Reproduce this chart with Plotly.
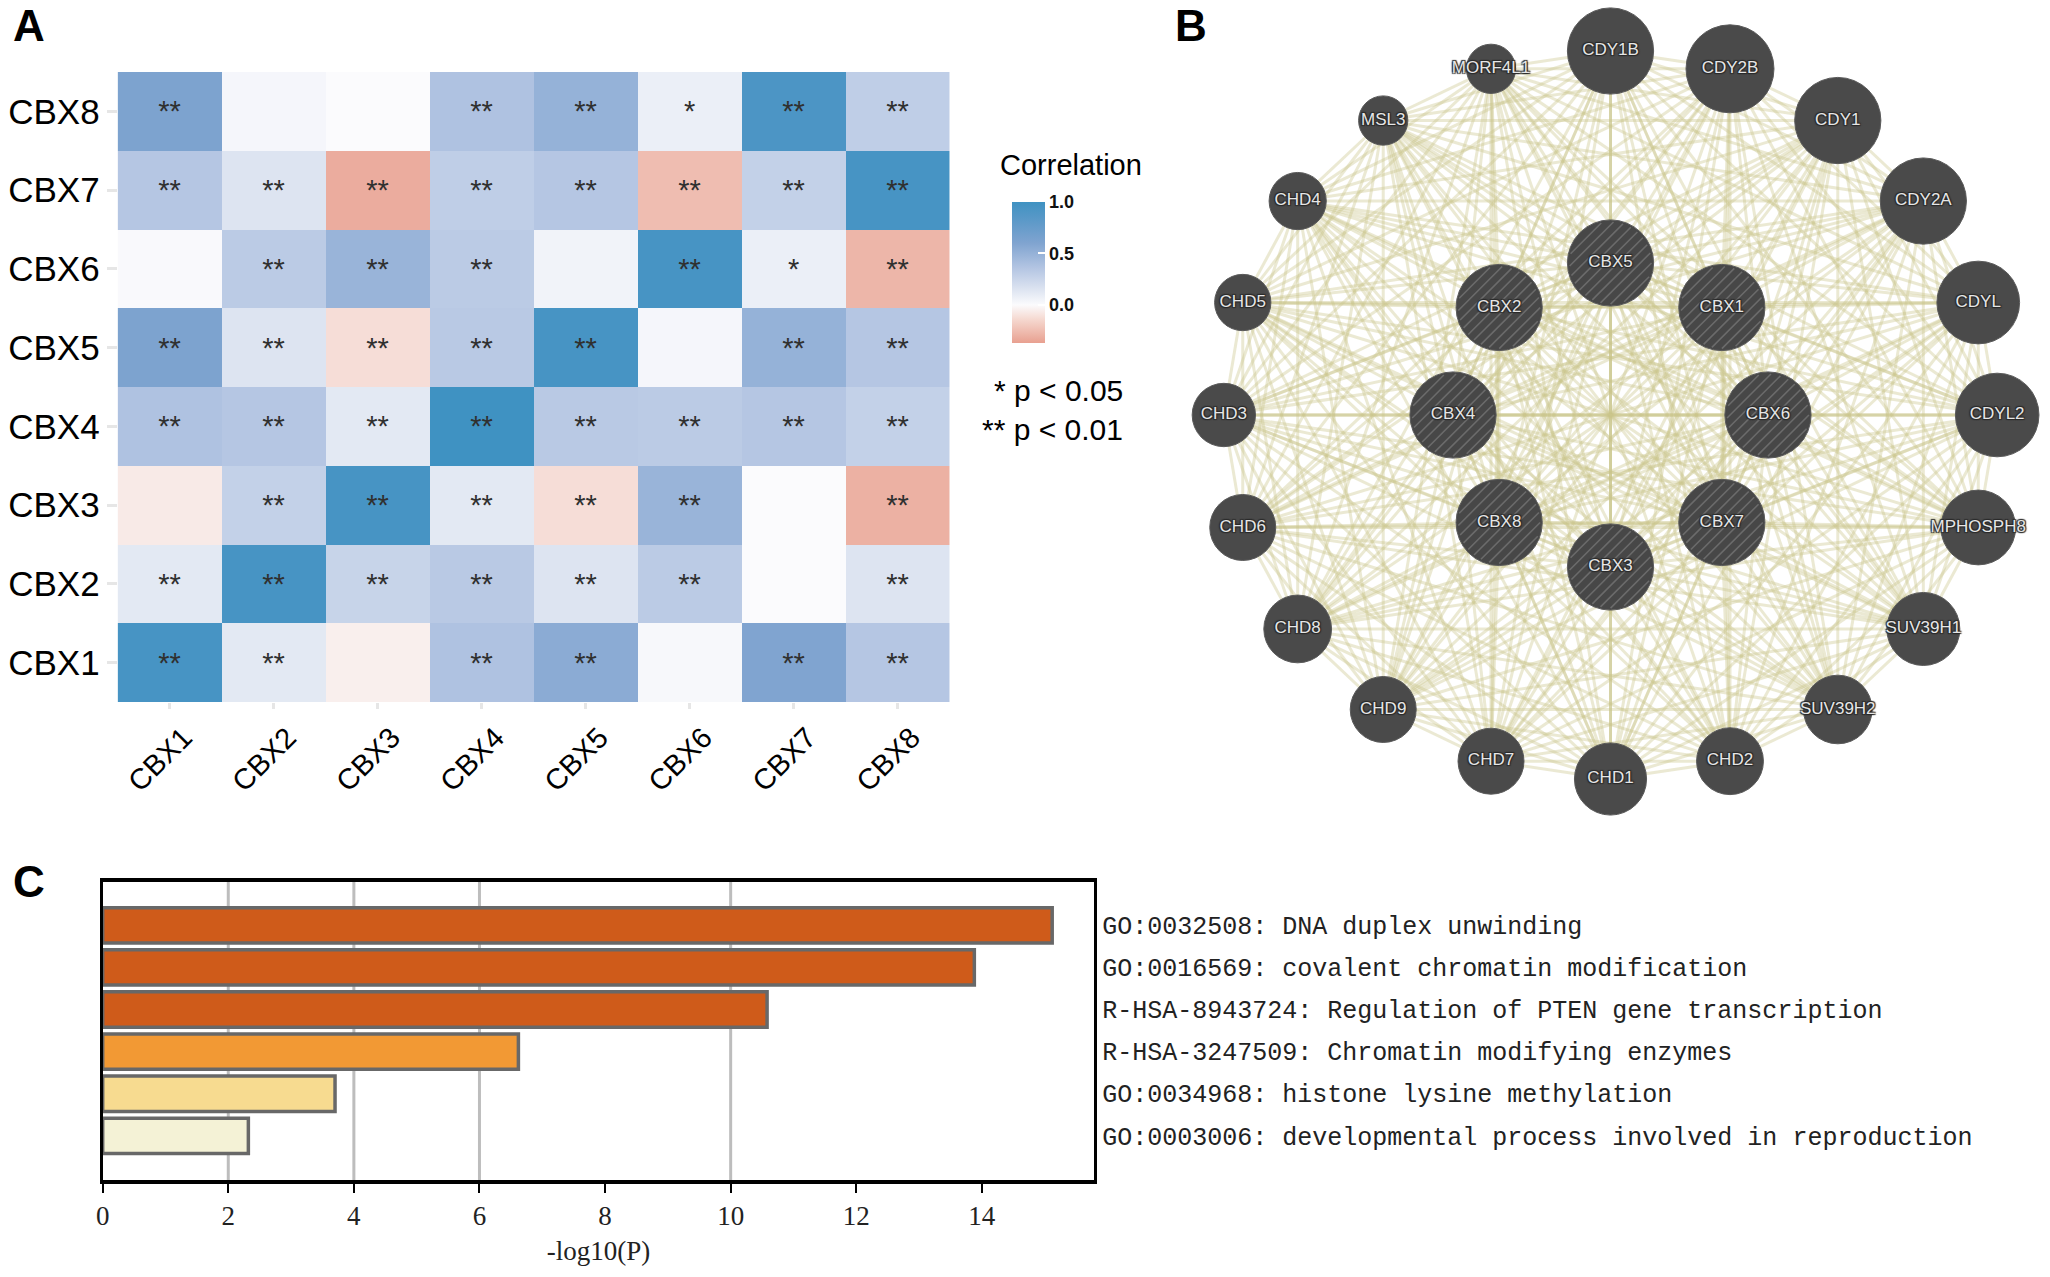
import math
from itertools import combinations
import plotly.graph_objects as go

# ---------------- Panel A data: correlation heatmap ----------------
cbx_cols = ["CBX1", "CBX2", "CBX3", "CBX4", "CBX5", "CBX6", "CBX7", "CBX8"]
cbx_rows = ["CBX1", "CBX2", "CBX3", "CBX4", "CBX5", "CBX6", "CBX7", "CBX8"]
corr_cbx1 = [0.95, 0.12, -0.05, 0.38, 0.55, 0.02, 0.60, 0.35]
corr_cbx2 = [0.12, 0.95, 0.26, 0.33, 0.15, 0.32, 0.00, 0.15]
corr_cbx3 = [-0.07, 0.28, 0.95, 0.12, -0.12, 0.48, 0.00, -0.30]
corr_cbx4 = [0.38, 0.35, 0.12, 1.00, 0.33, 0.32, 0.35, 0.28]
corr_cbx5 = [0.62, 0.15, -0.12, 0.33, 0.95, 0.03, 0.50, 0.35]
corr_cbx6 = [0.01, 0.32, 0.48, 0.32, 0.05, 0.95, 0.08, -0.28]
corr_cbx7 = [0.35, 0.15, -0.32, 0.30, 0.35, -0.25, 0.28, 0.95]
corr_cbx8 = [0.62, 0.03, 0.00, 0.38, 0.50, 0.08, 0.92, 0.30]
sig_cbx1 = ["**", "**", "", "**", "**", "", "**", "**"]
sig_cbx2 = ["**", "**", "**", "**", "**", "**", "", "**"]
sig_cbx3 = ["", "**", "**", "**", "**", "**", "", "**"]
sig_cbx4 = ["**", "**", "**", "**", "**", "**", "**", "**"]
sig_cbx5 = ["**", "**", "**", "**", "**", "", "**", "**"]
sig_cbx6 = ["", "**", "**", "**", "", "**", "*", "**"]
sig_cbx7 = ["**", "**", "**", "**", "**", "**", "**", "**"]
sig_cbx8 = ["**", "", "", "**", "**", "*", "**", "**"]
corr_min, corr_max = -0.37, 1.0
cbar_ticks = [0.0, 0.5, 1.0]

# ---------------- Panel B data: interaction network ----------------
outer_nodes = ["CDY1B", "CDY2B", "CDY1", "CDY2A", "CDYL", "CDYL2", "MPHOSPH8",
               "SUV39H1", "SUV39H2", "CHD2", "CHD1", "CHD7", "CHD9", "CHD8",
               "CHD6", "CHD3", "CHD5", "CHD4", "MSL3", "MORF4L1"]
outer_score = [0.98, 1.00, 0.98, 0.98, 0.94, 0.95, 0.85, 0.83, 0.78, 0.76,
               0.82, 0.75, 0.75, 0.77, 0.75, 0.72, 0.64, 0.65, 0.56, 0.56]
inner_nodes = ["CBX5", "CBX1", "CBX6", "CBX7", "CBX3", "CBX8", "CBX4", "CBX2"]
inner_score = [0.98, 0.98, 0.98, 0.98, 0.98, 0.98, 0.98, 0.98]

# ---------------- Panel C data: enrichment bars ----------------
terms = ["GO:0032508: DNA duplex unwinding",
         "GO:0016569: covalent chromatin modification",
         "R-HSA-8943724: Regulation of PTEN gene transcription",
         "R-HSA-3247509: Chromatin modifying enzymes",
         "GO:0034968: histone lysine methylation",
         "GO:0003006: developmental process involved in reproduction"]
neg_log10_p = [15.12, 13.88, 10.58, 6.62, 3.70, 2.32]
bar_grid_at = [2, 4, 6, 10]
bar_ticks = [0, 2, 4, 6, 8, 10, 12, 14]

W, H = 2050, 1277
X_OFF = -6  # small horizontal correction for the capture


def px_x(p):
    return (p + X_OFF) / W


def px_y(p):
    return 1 - p / H


fig = go.Figure()

# ---------------- Heatmap ----------------
z = [corr_cbx1, corr_cbx2, corr_cbx3, corr_cbx4, corr_cbx5, corr_cbx6, corr_cbx7, corr_cbx8]
sig = [sig_cbx1, sig_cbx2, sig_cbx3, sig_cbx4, sig_cbx5, sig_cbx6, sig_cbx7, sig_cbx8]


def nrm(v):
    return (v - corr_min) / (corr_max - corr_min)


colorscale = [
    [0.0, "#e8a090"],
    [nrm(-0.15), "#f5d6cd"],
    [nrm(0.0), "#fbfbfd"],
    [nrm(0.15), "#dde4f1"],
    [nrm(0.35), "#b5c6e3"],
    [nrm(0.6), "#80a4d0"],
    [nrm(0.8), "#5f9ac9"],
    [1.0, "#3f92c2"],
]

fig.add_trace(go.Heatmap(
    x=cbx_cols, y=cbx_rows, z=z, text=sig, texttemplate="%{text}",
    textfont=dict(family="Arial", size=29, color="#303030"),
    zmin=corr_min, zmax=corr_max, colorscale=colorscale,
    xaxis="x", yaxis="y", hoverinfo="skip",
    colorbar=dict(
        x=px_x(1014), xanchor="left", xpad=0,
        y=px_y(272.5), yanchor="middle", ypad=0,
        len=141, lenmode="pixels", thickness=33, thicknessmode="pixels",
        tickvals=cbar_ticks, ticktext=[f"{t:.1f}" for t in cbar_ticks],
        ticks="inside", tickcolor="white", ticklen=7, tickwidth=2,
        tickfont=dict(family="Arial", size=18, color="#111", weight="bold"),
        outlinewidth=0,
    ),
))

# ---------------- Network ----------------
rx_out, ry_out = 388, 364
rx_in, ry_in = 158, 152
pos = {}
for i, n in enumerate(outer_nodes):
    a = 2 * math.pi * i / len(outer_nodes)
    pos[n] = (rx_out * math.sin(a), ry_out * math.cos(a))
for i, n in enumerate(inner_nodes):
    a = 2 * math.pi * i / len(inner_nodes)
    pos[n] = (rx_in * math.sin(a), ry_in * math.cos(a))

all_nodes = outer_nodes + inner_nodes
ex, ey = [], []
for a, b in combinations(all_nodes, 2):
    ex += [pos[a][0], pos[b][0], None]
    ey += [pos[a][1], pos[b][1], None]
fig.add_trace(go.Scatter(
    x=ex, y=ey, mode="lines", xaxis="x2", yaxis="y2",
    line=dict(color="rgba(202,198,140,0.38)", width=3.0),
    hoverinfo="skip", showlegend=False,
))

NODE_D = 88
fig.add_trace(go.Scatter(
    x=[pos[n][0] for n in outer_nodes], y=[pos[n][1] for n in outer_nodes],
    mode="markers", marker=dict(size=[s * NODE_D for s in outer_score], color="#4a4a4a",
                                line=dict(width=1, color="#5a5a5a"), opacity=1),
    xaxis="x2", yaxis="y2", hoverinfo="skip", showlegend=False,
))
fig.add_trace(go.Scatter(
    x=[pos[n][0] for n in inner_nodes], y=[pos[n][1] for n in inner_nodes],
    mode="markers", marker=dict(size=[s * NODE_D for s in inner_score], color="#474747",
                                line=dict(width=1, color="#5c5c5c"), opacity=1),
    xaxis="x2", yaxis="y2", hoverinfo="skip", showlegend=False,
))
# diagonal hatching inside the CBX (query) nodes; axis units equal screen pixels
hx, hy = [], []
c45 = math.cos(math.pi / 4)
for n, s in zip(inner_nodes, inner_score):
    r = s * NODE_D / 2 - 2
    x0, y0 = pos[n]
    d = -r + 4
    while d < r:
        half = math.sqrt(max(r * r - d * d, 0))
        bx, by = x0 - d * c45, y0 + d * c45
        hx += [bx - half * c45, bx + half * c45, None]
        hy += [by - half * c45, by + half * c45, None]
        d += 8
fig.add_trace(go.Scatter(
    x=hx, y=hy, mode="lines", xaxis="x2", yaxis="y2",
    line=dict(color="#6b6b6b", width=1.6), hoverinfo="skip", showlegend=False,
))
shadow = "1px 1px 1px #2a2a2a, -1px -1px 1px #2a2a2a, 1px -1px 1px #2a2a2a, -1px 1px 1px #2a2a2a"
fig.add_trace(go.Scatter(
    x=[pos[n][0] for n in all_nodes], y=[pos[n][1] for n in all_nodes],
    mode="text", text=all_nodes, textposition="middle center",
    textfont=dict(family="Arial", size=17, color="#e6e6e6", shadow=shadow),
    xaxis="x2", yaxis="y2", hoverinfo="text", showlegend=False,
))

# ---------------- Bars ----------------
bar_colors = ["#cf5b1a", "#cf5b1a", "#cf5b1a", "#f29934", "#f7db90", "#f4f2d6"]
fig.add_trace(go.Bar(
    x=neg_log10_p, y=terms, orientation="h", width=0.84,
    marker=dict(color=bar_colors, line=dict(color="#686868", width=3.5)),
    xaxis="x3", yaxis="y3", hoverinfo="x+y", showlegend=False,
))
shapes = []
for g in bar_grid_at:
    shapes.append(dict(type="line", xref="x3", yref="y3 domain", x0=g, x1=g,
                       y0=0, y1=1, layer="below",
                       line=dict(color="#bdbdbd", width=3)))

annotations = [
    dict(text="<b>A</b>", x=px_x(10), y=px_y(26), xanchor="left", yanchor="middle",
         showarrow=False, xref="paper", yref="paper",
         font=dict(family="Arial", size=44, color="black")),
    dict(text="<b>B</b>", x=px_x(1176), y=px_y(26), xanchor="left", yanchor="middle",
         showarrow=False, xref="paper", yref="paper",
         font=dict(family="Arial", size=44, color="black")),
    dict(text="<b>C</b>", x=px_x(10), y=px_y(881), xanchor="left", yanchor="middle",
         showarrow=False, xref="paper", yref="paper",
         font=dict(family="Arial", size=44, color="black")),
    dict(text="Correlation", x=px_x(1000), y=px_y(165), xanchor="left", yanchor="middle",
         showarrow=False, xref="paper", yref="paper",
         font=dict(family="Arial", size=29, color="black")),
    dict(text="* p < 0.05", x=px_x(1128), y=px_y(390), xanchor="right", yanchor="middle",
         showarrow=False, xref="paper", yref="paper",
         font=dict(family="Arial", size=30, color="black")),
    dict(text="** p < 0.01", x=px_x(1128), y=px_y(429), xanchor="right", yanchor="middle",
         showarrow=False, xref="paper", yref="paper",
         font=dict(family="Arial", size=30, color="black")),
]

fig.update_layout(
    width=W, height=H, margin=dict(l=0, r=0, t=0, b=0),
    paper_bgcolor="white", plot_bgcolor="white", showlegend=False,
    shapes=shapes, annotations=annotations,
    xaxis=dict(domain=[px_x(117), px_x(952)], anchor="y", tickangle=-45,
               tickfont=dict(family="Arial", size=29, color="black"),
               ticks="outside", ticklen=6, tickcolor="#e6e6e6", tickwidth=3,
               ticklabelshift=14,
               showgrid=False, zeroline=False, showline=False, fixedrange=True),
    yaxis=dict(domain=[px_y(702), px_y(72)], anchor="x",
               tickfont=dict(family="Arial", size=35, color="black"),
               ticks="outside", ticklen=10, tickcolor="#e6e6e6", tickwidth=3,
               showgrid=False, zeroline=False, showline=False, fixedrange=True),
    xaxis2=dict(domain=[px_x(1150), px_x(2050)], anchor="y2", range=[-465, 435],
                visible=False, fixedrange=True),
    yaxis2=dict(domain=[px_y(830), 1.0], anchor="x2", range=[-415, 415],
                visible=False, fixedrange=True),
    xaxis3=dict(domain=[px_x(102), px_x(1097)], anchor="y3", range=[0, 15.79],
                tickvals=bar_ticks, ticks="outside", ticklen=9, tickwidth=2,
                tickcolor="black",
                tickfont=dict(family="Liberation Serif", size=27, color="#222"),
                title=dict(text="-log10(P)", standoff=12,
                           font=dict(family="Liberation Serif", size=27, color="#222")),
                showgrid=False, zeroline=False, showline=True, linewidth=4,
                linecolor="black", mirror=True, fixedrange=True),
    yaxis3=dict(domain=[px_y(1180), px_y(882)], anchor="x3", side="right",
                range=[6.05, -1.03], type="category",
                tickfont=dict(family="Liberation Mono", size=25, color="#222"),
                ticks="", showgrid=False, zeroline=False, showline=True,
                linewidth=3, linecolor="black", mirror=True, fixedrange=True),
)

fig.write_html("out.html", config={"displayModeBar": False},
               post_script="document.body.style.margin='0';")
